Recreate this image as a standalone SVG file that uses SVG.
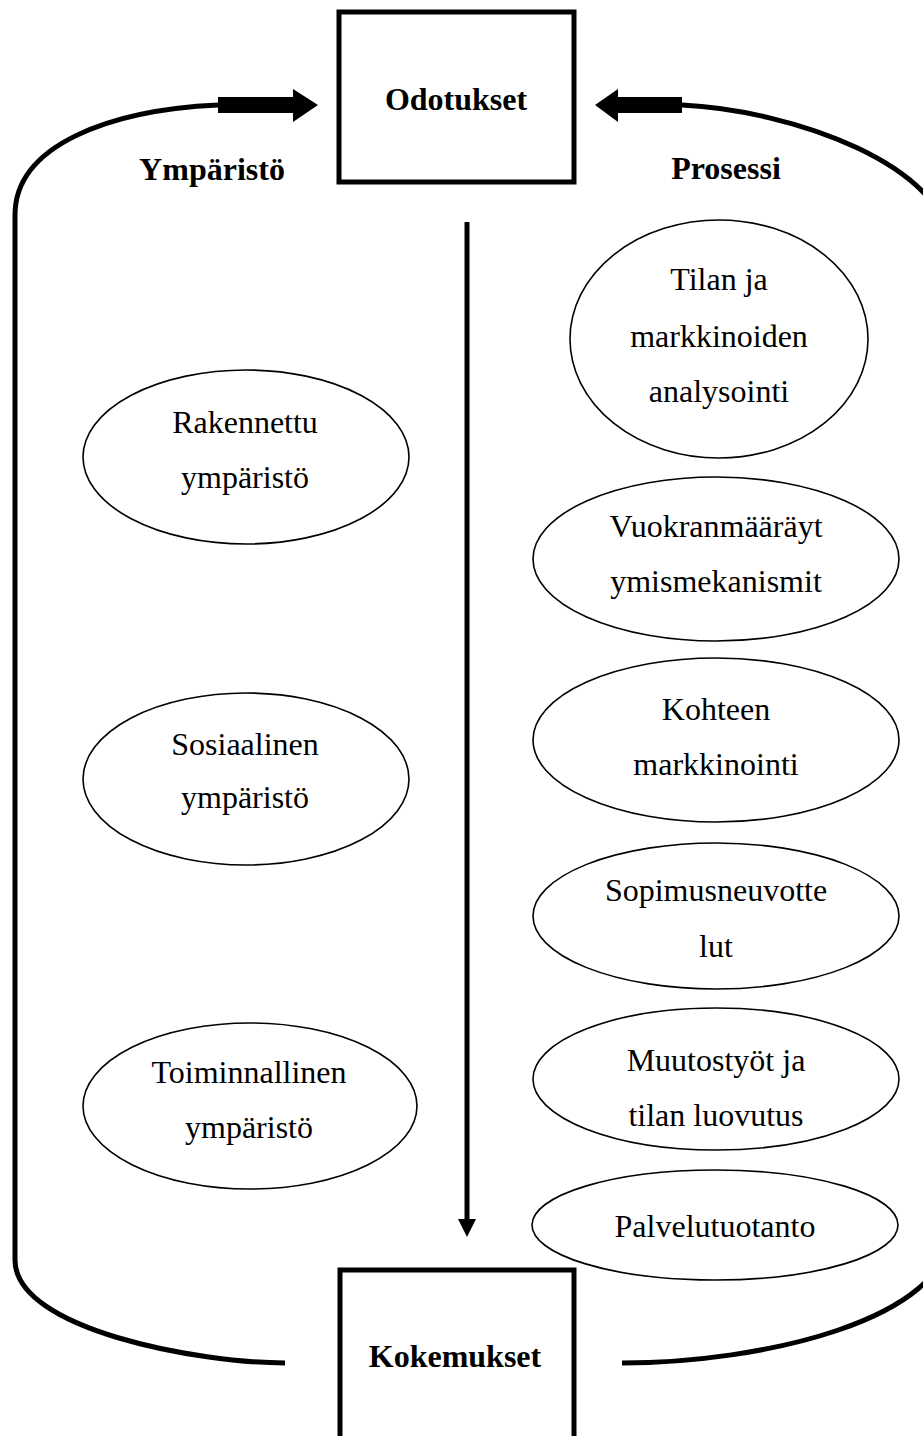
<svg xmlns="http://www.w3.org/2000/svg" width="923" height="1436" viewBox="0 0 923 1436">
<style>
.box{fill:#fff;stroke:#000;stroke-width:5}
.ell{fill:#fff;stroke:#000;stroke-width:1.6}
.loop{fill:none;stroke:#000;stroke-width:5}
.t{font-family:"Liberation Serif","Times New Roman",serif;font-size:32px;fill:#000;text-anchor:middle}
.b{font-family:"Liberation Serif","Times New Roman",serif;font-size:32px;font-weight:bold;fill:#000;text-anchor:middle}
</style>
<rect width="923" height="1436" fill="#fff"/>
<g id="connectors">
<path class="loop" d="M218,105 C110,110 15,145 15,215 L15,1260 C15,1330 200,1363 285,1363"/>
<path class="loop" d="M682,105 C790,110 950,165 950,250 L950,1230 C950,1320 760,1363 622,1363"/>
<rect x="218" y="97" width="76" height="16" fill="#000"/>
<polygon points="293,89 318,105 293,122" fill="#000"/>
<rect x="616" y="97" width="66" height="16" fill="#000"/>
<polygon points="618,89 595,105 618,122" fill="#000"/>
<line x1="467" y1="222" x2="467" y2="1222" stroke="#000" stroke-width="5"/>
<polygon points="458,1219 476,1219 467,1237" fill="#000"/>
</g>
<g id="odotukset">
<rect class="box" x="339" y="12" width="235" height="170"/>
<text class="b" x="456" y="110">Odotukset</text>
</g>
<g id="kokemukset">
<rect class="box" x="340" y="1270" width="234" height="180"/>
<text class="b" x="455" y="1367">Kokemukset</text>
</g>
<g id="label-ymparisto"><text class="b" x="212" y="180">Ympäristö</text></g>
<g id="label-prosessi"><text class="b" x="726" y="179">Prosessi</text></g>
<g id="rakennettu">
<ellipse class="ell" cx="246" cy="457" rx="163" ry="87"/>
<text class="t" x="245" y="433">Rakennettu</text>
<text class="t" x="245" y="488">ympäristö</text>
</g>
<g id="sosiaalinen">
<ellipse class="ell" cx="246" cy="779" rx="163" ry="86"/>
<text class="t" x="245" y="755">Sosiaalinen</text>
<text class="t" x="245" y="808">ympäristö</text>
</g>
<g id="toiminnallinen">
<ellipse class="ell" cx="250" cy="1106" rx="167" ry="83"/>
<text class="t" x="249" y="1083">Toiminnallinen</text>
<text class="t" x="249" y="1138">ympäristö</text>
</g>
<g id="tilan">
<ellipse class="ell" cx="719" cy="339" rx="149" ry="119"/>
<text class="t" x="719" y="290">Tilan ja</text>
<text class="t" x="719" y="347">markkinoiden</text>
<text class="t" x="719" y="402">analysointi</text>
</g>
<g id="vuokran">
<ellipse class="ell" cx="716" cy="559" rx="183" ry="82"/>
<text class="t" x="716" y="537">Vuokranmääräyt</text>
<text class="t" x="716" y="592">ymismekanismit</text>
</g>
<g id="kohteen">
<ellipse class="ell" cx="716" cy="740" rx="183" ry="82"/>
<text class="t" x="716" y="720">Kohteen</text>
<text class="t" x="716" y="775">markkinointi</text>
</g>
<g id="sopimus">
<ellipse class="ell" cx="716" cy="916" rx="183" ry="73"/>
<text class="t" x="716" y="901">Sopimusneuvotte</text>
<text class="t" x="716" y="957">lut</text>
</g>
<g id="muutos">
<ellipse class="ell" cx="716" cy="1079" rx="183" ry="71"/>
<text class="t" x="716" y="1071">Muutostyöt ja</text>
<text class="t" x="716" y="1126">tilan luovutus</text>
</g>
<g id="palvelu">
<ellipse class="ell" cx="715" cy="1225" rx="183" ry="55"/>
<text class="t" x="715" y="1237">Palvelutuotanto</text>
</g>
</svg>
